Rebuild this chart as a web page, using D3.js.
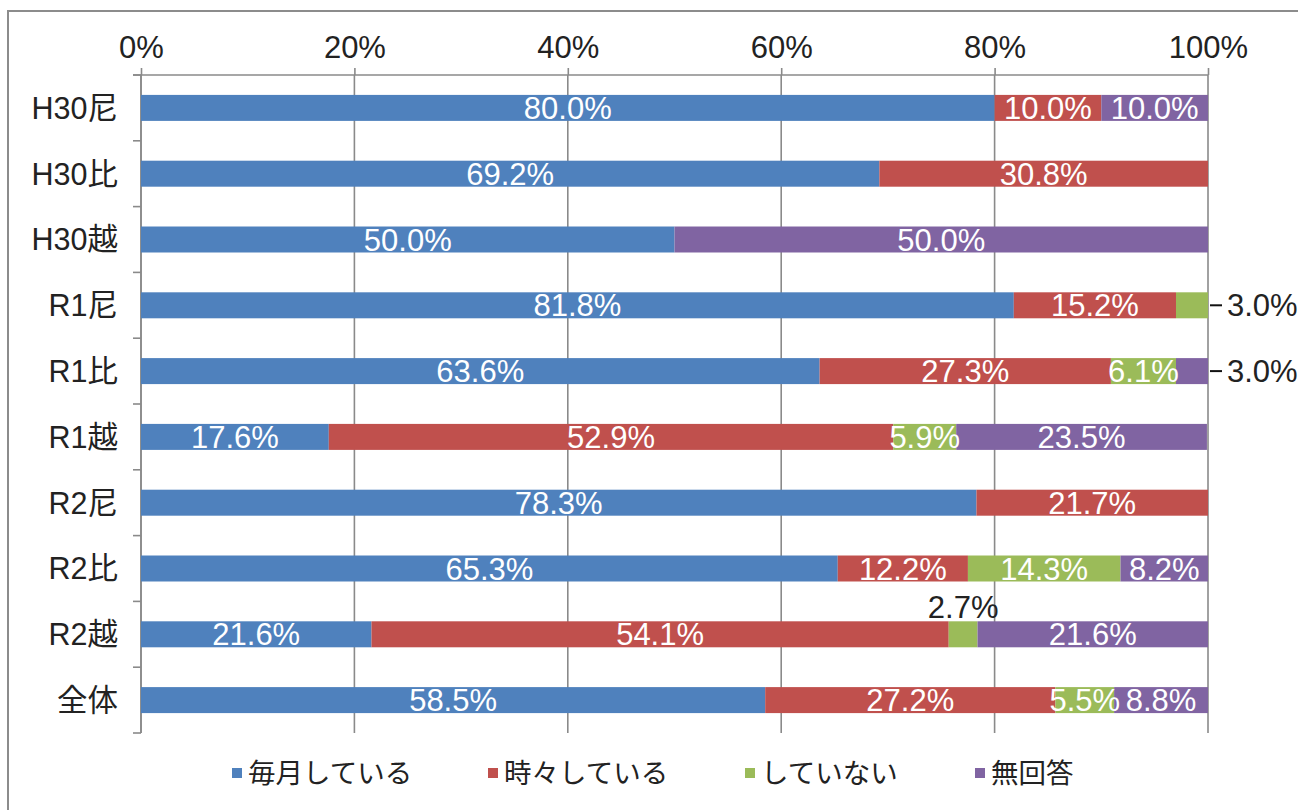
<!DOCTYPE html>
<html>
<head>
<meta charset="utf-8">
<script src="https://cdn.jsdelivr.net/npm/d3@7/dist/d3.min.js"></script>
<style>
  html, body { margin: 0; padding: 0; background: #fff; }
  svg { display: block; }
  text { font-family: "Liberation Sans", "Noto Sans CJK JP", sans-serif; }
</style>
</head>
<body>
<svg id="chart" width="1298" height="810"></svg>
<script>
// Survey groups (rows, top to bottom)
const categories = ["H30尼", "H30比", "H30越", "R1尼", "R1比", "R1越", "R2尼", "R2比", "R2越", "全体"];

// Response options and their colours
const seriesNames = ["毎月している", "時々している", "していない", "無回答"];
const seriesColors = ["#4F81BD", "#C0504D", "#9BBB59", "#8064A2"];

// Share of responses (%) per option, one value per row
const monthly   = [80.0, 69.2, 50.0, 81.8, 63.6, 17.6, 78.3, 65.3, 21.6, 58.5];
const sometimes = [10.0, 30.8,  0.0, 15.2, 27.3, 52.9, 21.7, 12.2, 54.1, 27.2];
const never     = [ 0.0,  0.0,  0.0,  3.0,  6.1,  5.9,  0.0, 14.3,  2.7,  5.5];
const noAnswer  = [10.0,  0.0, 50.0,  0.0,  3.0, 23.5,  0.0,  8.2, 21.6,  8.8];
const seriesValues = [monthly, sometimes, never, noAnswer];

// Axis ticks
const xTicks = [0, 20, 40, 60, 80, 100];

// Segments too narrow for an inside label: "right" = leader line to the right, "above" = over the bar
const outsideLabels = [
  { category: "R1尼", series: "していない", place: "right" },
  { category: "R1比", series: "無回答", place: "right" },
  { category: "R2越", series: "していない", place: "above" }
];

const svg = d3.select("#chart");
const gridColor = "#8a8a8a";
const numSize = 31;

// Outer frame
svg.append("rect")
  .attr("x", 8).attr("y", 11)
  .attr("width", 1400).attr("height", 900)
  .attr("fill", "none").attr("stroke", "#8c8c8c").attr("stroke-width", 2);

const plot = { left: 141, right: 1208, top: 75, bottom: 733 };

const x = d3.scaleLinear().domain([0, 100]).range([plot.left, plot.right]);
const y = d3.scaleBand().domain(categories).range([plot.top, plot.bottom]).paddingInner(0.605).paddingOuter(0.3025);
const band = d3.scaleBand().domain(categories).range([plot.top, plot.bottom]);

// Stack the series
const rows = categories.map((c, i) => {
  const r = { category: c };
  seriesNames.forEach((s, k) => { r[s] = seriesValues[k][i]; });
  return r;
});
const stacked = d3.stack().keys(seriesNames)(rows);

// Vertical gridlines
svg.append("g").selectAll("line")
  .data(xTicks)
  .join("line")
  .attr("x1", d => x(d)).attr("x2", d => x(d))
  .attr("y1", plot.top).attr("y2", plot.bottom)
  .attr("stroke", gridColor).attr("stroke-width", 1.6);

// Top value axis
const xAxis = svg.append("g")
  .attr("transform", `translate(0,${plot.top})`)
  .call(d3.axisTop(x).tickValues(xTicks).tickFormat(d => d + "%").tickSize(7).tickSizeOuter(0).tickPadding(10));
xAxis.select(".domain").attr("stroke", gridColor).attr("stroke-width", 1.6)
  .attr("d", `M${plot.left - 8},0H${plot.right}`);
xAxis.selectAll(".tick line").attr("stroke", gridColor).attr("stroke-width", 1.6);
xAxis.selectAll(".tick text")
  .attr("fill", "#222").attr("font-size", numSize)
  .attr("font-family", "Liberation Sans, sans-serif");

// Left category axis with ticks between categories
const yAxis = svg.append("g")
  .attr("transform", `translate(${plot.left},0)`);
yAxis.append("line")
  .attr("x1", 0).attr("x2", 0).attr("y1", plot.top).attr("y2", plot.bottom)
  .attr("stroke", gridColor).attr("stroke-width", 1.6);
const boundaries = categories.map(c => band(c)).concat([plot.bottom]);
yAxis.selectAll("line.sep")
  .data(boundaries)
  .join("line").attr("class", "sep")
  .attr("x1", -8).attr("x2", 0)
  .attr("y1", d => d).attr("y2", d => d)
  .attr("stroke", gridColor).attr("stroke-width", 1.6);
yAxis.selectAll("text")
  .data(categories)
  .join("text")
  .attr("x", -23)
  .attr("y", d => band(d) + band.bandwidth() / 2)
  .attr("dy", "0.36em")
  .attr("text-anchor", "end")
  .attr("fill", "#222").attr("font-size", 30.5)
  .text(d => d);

// Bars
const layers = svg.append("g").selectAll("g")
  .data(stacked)
  .join("g")
  .attr("fill", (d, i) => seriesColors[i]);
layers.selectAll("rect")
  .data(d => d.map(p => ({ key: d.key, cat: p.data.category, x0: p[0], x1: p[1] })))
  .join("rect")
  .attr("x", d => x(d.x0))
  .attr("y", d => y(d.cat))
  .attr("width", d => Math.max(0, x(d.x1) - x(d.x0)))
  .attr("height", y.bandwidth());

// Value labels
const isOutside = (cat, key) => outsideLabels.find(o => o.category === cat && o.series === key);
const fmt = v => v.toFixed(1) + "%";
const labelG = svg.append("g");
stacked.forEach(layer => {
  layer.forEach(p => {
    const v = p[1] - p[0];
    if (v <= 0) return;
    const cat = p.data.category;
    const cy = y(cat) + y.bandwidth() / 2;
    const out = isOutside(cat, layer.key);
    if (!out) {
      labelG.append("text")
        .attr("x", (x(p[0]) + x(p[1])) / 2)
        .attr("y", cy).attr("dy", "0.36em")
        .attr("text-anchor", "middle")
        .attr("fill", "#fff").attr("font-size", numSize)
        .text(fmt(v));
    } else if (out.place === "right") {
      labelG.append("line")
        .attr("x1", plot.right + 2).attr("x2", plot.right + 14)
        .attr("y1", cy).attr("y2", cy)
        .attr("stroke", "#111").attr("stroke-width", 2);
      labelG.append("text")
        .attr("x", plot.right + 19)
        .attr("y", cy).attr("dy", "0.36em")
        .attr("fill", "#222").attr("font-size", numSize)
        .text(fmt(v));
    } else {
      labelG.append("text")
        .attr("x", (x(p[0]) + x(p[1])) / 2)
        .attr("y", y(cat) - 3)
        .attr("text-anchor", "middle")
        .attr("fill", "#222").attr("font-size", numSize)
        .text(fmt(v));
    }
  });
});

// Legend
const legendX = [232, 488, 745, 975];
const legend = svg.append("g").selectAll("g")
  .data(seriesNames)
  .join("g")
  .attr("transform", (d, i) => `translate(${legendX[i]},768)`);
legend.append("rect")
  .attr("width", 10).attr("height", 10)
  .attr("fill", (d, i) => seriesColors[i]);
legend.append("text")
  .attr("x", 16).attr("y", 5).attr("dy", "0.36em")
  .attr("fill", "#222").attr("font-size", 27.5)
  .text(d => d);
</script>
</body>
</html>
